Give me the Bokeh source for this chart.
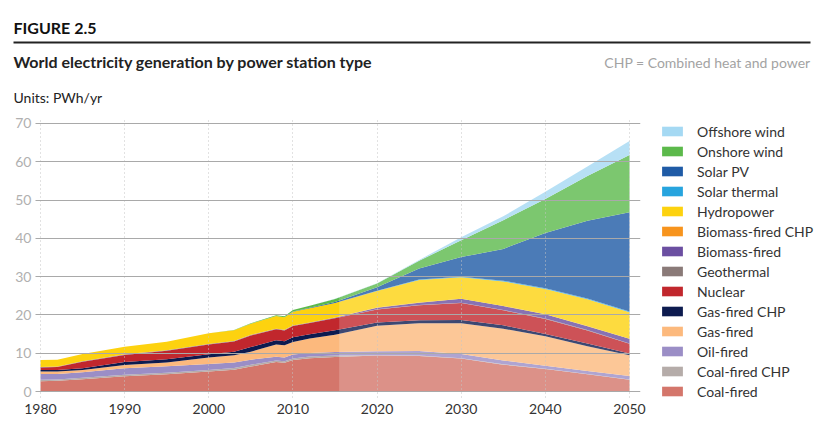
from bokeh.plotting import figure
from bokeh.layouts import column
from bokeh.models import (ColumnDataSource, Range1d, FixedTicker, Label, BoxAnnotation,
                          Legend, LegendItem)
from bokeh.embed import file_html
from bokeh.resources import INLINE

# ---------------- data (PWh/yr) ----------------
years = [1980, 1982, 1985, 1990, 1995, 2000, 2003, 2005, 2008, 2009, 2010, 2012, 2015,
         2020, 2025, 2030, 2035, 2040, 2045, 2050]
coal_fired     = [2.7, 2.8, 3.2, 4.0, 4.5, 5.2, 5.7, 6.5, 7.7, 7.5, 8.2, 8.7, 9.0,
                  9.4, 9.3, 8.6, 7.0, 5.9, 4.5, 3.1]
coal_fired_chp = [0.35, 0.35, 0.4, 0.35, 0.4, 0.4, 0.45, 0.5, 0.4, 0.4, 0.45, 0.45, 0.4,
                  0.1, 0.1, 0.1, 0.1, 0.05, 0.05, 0.05]
oil_fired      = [1.55, 1.45, 1.4, 1.75, 1.7, 1.6, 1.4, 1.3, 1.0, 1.0, 1.0, 0.9, 0.9,
                  1.0, 1.2, 1.1, 1.0, 0.8, 0.8, 0.9]
gas_fired      = [0.6, 0.6, 0.6, 0.8, 1.0, 1.7, 1.9, 2.1, 3.2, 3.2, 3.3, 3.8, 4.5,
                  6.7, 7.2, 8.0, 8.3, 7.7, 6.5, 5.4]
gas_fired_chp  = [0.4, 0.4, 0.5, 0.8, 0.8, 0.8, 0.95, 1.2, 1.1, 1.0, 1.2, 1.1, 1.2,
                  0.8, 0.8, 0.9, 0.9, 0.6, 0.7, 0.5]
nuclear        = [0.7, 0.8, 1.67, 1.85, 2.24, 2.55, 2.65, 3.05, 2.85, 2.85, 2.95, 2.95, 3.1,
                  3.4, 3.9, 4.4, 3.9, 3.9, 3.4, 2.5]
geothermal     = [0.03, 0.03, 0.04, 0.04, 0.05, 0.05, 0.05, 0.05, 0.05, 0.05, 0.05, 0.05, 0.06,
                  0.1, 0.1, 0.1, 0.1, 0.1, 0.1, 0.1]
biomass_fired  = [0.05, 0.05, 0.06, 0.07, 0.08, 0.08, 0.08, 0.08, 0.08, 0.08, 0.08, 0.08, 0.1,
                  0.4, 0.6, 1.0, 1.0, 1.1, 1.0, 1.2]
biomass_chp    = [0.02, 0.02, 0.03, 0.04, 0.03, 0.02, 0.02, 0.02, 0.02, 0.02, 0.02, 0.02, 0.04,
                  0.05, 0.05, 0.05, 0.05, 0.05, 0.05, 0.05]
hydropower     = [1.8, 1.8, 1.9, 2.0, 2.2, 2.8, 2.8, 2.9, 3.3, 3.3, 3.6, 3.7, 3.8,
                  4.3, 5.9, 5.6, 6.4, 6.6, 7.0, 6.9]
solar_thermal  = [0, 0, 0, 0, 0, 0, 0, 0, 0, 0, 0, 0, 0.01,
                  0.05, 0.1, 0.15, 0.2, 0.2, 0.2, 0.2]
solar_pv       = [0, 0, 0, 0, 0, 0, 0, 0, 0.01, 0.02, 0.03, 0.1, 0.25,
                  0.9, 2.9, 5.1, 8.3, 14.4, 20.3, 25.9]
onshore_wind   = [0, 0, 0, 0, 0, 0.02, 0.05, 0.1, 0.2, 0.25, 0.4, 0.55, 0.8,
                  1.0, 2.0, 4.4, 7.5, 8.9, 11.7, 15.0]
offshore_wind  = [0, 0, 0, 0, 0, 0, 0, 0, 0, 0, 0, 0.01, 0.05,
                  0.1, 0.2, 0.8, 1.0, 1.9, 2.5, 3.6]

# bottom -> top
series_keys = ["coal_fired", "coal_fired_chp", "oil_fired", "gas_fired", "gas_fired_chp",
               "nuclear", "geothermal", "biomass_fired", "biomass_chp", "hydropower",
               "solar_thermal", "solar_pv", "onshore_wind", "offshore_wind"]
series_labels = ["Coal-fired", "Coal-fired CHP", "Oil-fired", "Gas-fired", "Gas-fired CHP",
                 "Nuclear", "Geothermal", "Biomass-fired", "Biomass-fired CHP", "Hydropower",
                 "Solar thermal", "Solar PV", "Onshore wind", "Offshore wind"]
series_colors = ["#d4766b", "#b5aca9", "#9b8ec6", "#fcb97d", "#0d1b4f",
                 "#c1272d", "#8a7a78", "#6b4fa1", "#f7941d", "#fdd20f",
                 "#27a4de", "#1f5ba6", "#5cb94b", "#a5d9f3"]
x_ticks = [1980, 1990, 2000, 2010, 2020, 2030, 2040, 2050]
y_ticks = [0, 10, 20, 30, 40, 50, 60, 70]
forecast_start = 2015.5

FONT = "Lato"
W = 830
HEADER_H = 110
MAIN_H = 431 - HEADER_H

# ---------------- header (pixel-coordinate canvas) ----------------
h = figure(width=W, height=HEADER_H, output_backend="svg", toolbar_location=None,
           x_range=Range1d(0, W), y_range=Range1d(HEADER_H, 0),
           x_axis_type=None, y_axis_type=None, min_border=0)
h.frame_align = False
h.outline_line_color = None
h.xgrid.visible = False
h.ygrid.visible = False
h.segment(x0=[13], y0=[42], x1=[810], y1=[42], line_color="#222222", line_width=2)
h.add_layout(Label(x=13, y=27, text="FIGURE 2.5", text_font=FONT, text_font_style="bold",
                   text_font_size="16px", text_color="#111111",
                   text_baseline="middle", text_align="left"))
h.add_layout(Label(x=13, y=61, text="World electricity generation by power station type",
                   text_font=FONT, text_font_style="bold", text_font_size="16px",
                   text_color="#222222", text_baseline="middle", text_align="left"))
h.add_layout(Label(x=810, y=62, text="CHP = Combined heat and power", text_font=FONT,
                   text_font_size="14px", text_color="#a3a3a3",
                   text_baseline="middle", text_align="right"))
h.add_layout(Label(x=13, y=97, text="Units: PWh/yr", text_font=FONT,
                   text_font_size="14px", text_color="#222222",
                   text_baseline="middle", text_align="left"))

# ---------------- main chart ----------------
src = ColumnDataSource(dict(
    year=years, coal_fired=coal_fired, coal_fired_chp=coal_fired_chp, oil_fired=oil_fired,
    gas_fired=gas_fired, gas_fired_chp=gas_fired_chp, nuclear=nuclear, geothermal=geothermal,
    biomass_fired=biomass_fired, biomass_chp=biomass_chp, hydropower=hydropower,
    solar_thermal=solar_thermal, solar_pv=solar_pv, onshore_wind=onshore_wind,
    offshore_wind=offshore_wind))

PX_PER_YEAR = 8.414
PX_PER_UNIT = 3.8286
x_start = 1980 - 5 / PX_PER_YEAR          # frame left at page x 35
x_end = x_start + (W - 35) / PX_PER_YEAR  # frame runs to the right edge (legend lives inside)
grid_end = 2050 + 11 / PX_PER_YEAR        # grid lines stop a little after 2050
y_start = -10 / PX_PER_UNIT               # frame bottom at page y 401
y_end = 70 + 4 / PX_PER_UNIT
vgrid_bottom = -6 / PX_PER_UNIT

p = figure(width=W, height=MAIN_H, output_backend="svg", toolbar_location=None,
           x_range=Range1d(x_start, x_end), y_range=Range1d(y_start, y_end),
           min_border_left=35, min_border_right=0, min_border_top=9, min_border_bottom=30)
p.frame_align = False
p.outline_line_color = None
p.background_fill_color = "white"
p.border_fill_color = "white"

renderers = p.varea_stack(stackers=series_keys, x="year", color=series_colors, source=src)

# forecast region is drawn lighter
p.add_layout(BoxAnnotation(left=forecast_start, right=2050, fill_color="white",
                           fill_alpha=0.2, line_color=None, level="guide"))

p.xaxis.ticker = FixedTicker(ticks=x_ticks)
p.yaxis.ticker = FixedTicker(ticks=y_ticks)
for ax in (p.xaxis, p.yaxis):
    ax.axis_line_color = None
    ax.major_tick_line_color = None
    ax.minor_tick_line_color = None
    ax.major_tick_out = 0
    ax.major_tick_in = 0
    ax.major_label_text_font = FONT
p.xaxis.major_label_text_color = "#333333"
p.xaxis.major_label_text_font_size = "14px"
p.xaxis.major_label_standoff = 2
p.yaxis.major_label_text_color = "#b0b0b0"
p.yaxis.major_label_text_font_size = "14px"
p.yaxis.major_label_standoff = 4

p.xgrid.ticker = FixedTicker(ticks=x_ticks)
p.ygrid.ticker = FixedTicker(ticks=y_ticks)
p.xgrid.grid_line_color = "#c4c4c4"
p.xgrid.grid_line_dash = "1 3"
p.xgrid.grid_line_width = 1
p.ygrid.grid_line_color = "#a9a9a9"
p.ygrid.grid_line_width = 1.2
p.xgrid.level = "overlay"
p.ygrid.level = "overlay"
if "cross_bounds" in p.xgrid[0].properties():
    p.xgrid.cross_bounds = (vgrid_bottom, y_end)
    p.ygrid.cross_bounds = (x_start, grid_end)

# blank strip right of the chart where the legend sits (hides grid lines there)
p.add_layout(BoxAnnotation(left=grid_end, fill_color="white", fill_alpha=1,
                           line_color=None, level="overlay"))

items = [LegendItem(label=lab, renderers=[r])
         for lab, r in reversed(list(zip(series_labels, renderers)))]
legend = Legend(items=items, location=(624, 1.5), padding=0, margin=0, spacing=3,
                glyph_width=26, glyph_height=12, label_height=16, label_standoff=12,
                label_text_font=FONT, label_text_font_size="14px",
                label_text_color="#333333", border_line_color=None,
                background_fill_alpha=0, level="overlay")
p.add_layout(legend)

open("out.html", "w").write(file_html(column(h, p, spacing=0), INLINE))
